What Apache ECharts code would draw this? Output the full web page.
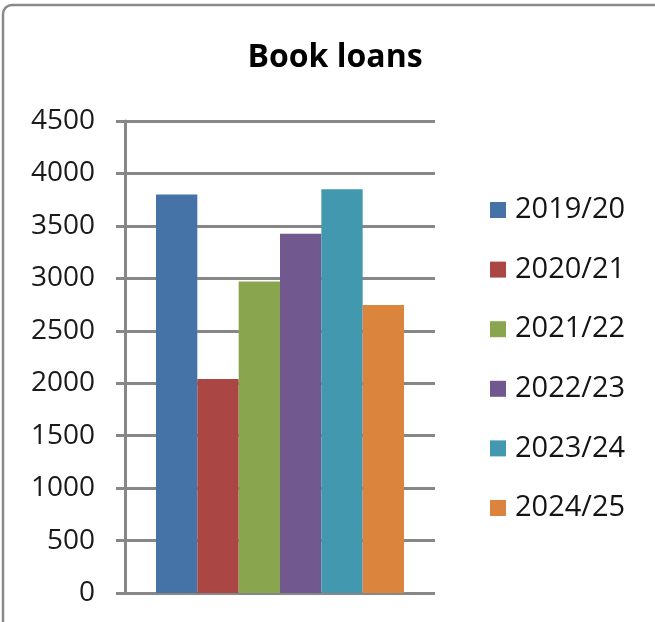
<!DOCTYPE html>
<html>
<head>
<meta charset="utf-8">
<title>Book loans</title>
<script src="https://cdn.jsdelivr.net/npm/echarts@6/dist/echarts.min.js"></script>
<style>
  html, body { margin: 0; padding: 0; background: #ffffff; }
  #chart { width: 655px; height: 622px; }
</style>
</head>
<body>
<div id="chart"></div>
<script>
// Academic years shown as separate series, one bar each
const years = ['2019/20', '2020/21', '2021/22', '2022/23', '2023/24', '2024/25'];
const loans = [3800, 2040, 2970, 3425, 3850, 2745];
const colors = ['#4572A7', '#AA4643', '#89A54E', '#71588F', '#4198AF', '#DB843D'];
const yTicks = [0, 500, 1000, 1500, 2000, 2500, 3000, 3500, 4000, 4500];

const FONT = '"Open Sans", "Liberation Sans", sans-serif';
const GRID_GREY = '#878787';

const chart = echarts.init(document.getElementById('chart'), null, { renderer: 'canvas' });

const series = years.map((y, i) => ({
  name: y,
  type: 'bar',
  data: [loans[i]],
  itemStyle: { color: colors[i] },
  barGap: '0%',
  barCategoryGap: '20%',
  animation: false
}));

chart.setOption({
  animation: false,
  backgroundColor: '#ffffff',
  title: {
    text: 'Book loans',
    left: 335,
    top: 42,
    padding: 0,
    textAlign: 'center',
    textStyle: { fontFamily: FONT, fontWeight: 'bold', fontSize: 32, color: '#000000' }
  },
  graphic: [{
    type: 'rect',
    shape: { x: 3, y: 5, width: 800, height: 800, r: 9 },
    style: { fill: 'none', stroke: '#8a8a8a', lineWidth: 2.5 },
    silent: true
  }],
  legend: {
    orient: 'vertical',
    left: 490,
    top: 195,
    padding: 0,
    itemWidth: 16,
    itemHeight: 16,
    itemGap: 29.6,
    icon: 'rect',
    data: years,
    textStyle: {
      fontFamily: FONT,
      fontSize: 29,
      lineHeight: 30,
      color: '#141414',
      padding: [0, 0, 0, 4]
    }
  },
  grid: { left: 125, right: 220, top: 121, bottom: 29, containLabel: false },
  xAxis: {
    type: 'category',
    data: [''],
    axisLine: { show: false },
    axisTick: { show: false },
    axisLabel: { show: false }
  },
  yAxis: {
    type: 'value',
    min: yTicks[0],
    max: yTicks[yTicks.length - 1],
    interval: 500,
    axisLine: { show: true, lineStyle: { color: GRID_GREY, width: 3 } },
    axisTick: { show: true, length: 9, lineStyle: { color: GRID_GREY, width: 3 } },
    splitLine: { show: true, lineStyle: { color: GRID_GREY, width: 3 } },
    axisLabel: {
      margin: 30,
      fontFamily: FONT,
      fontSize: 28,
      color: '#1a1a1a',
      formatter: (v) => String(v)
    }
  },
  series: series
});
</script>
</body>
</html>
